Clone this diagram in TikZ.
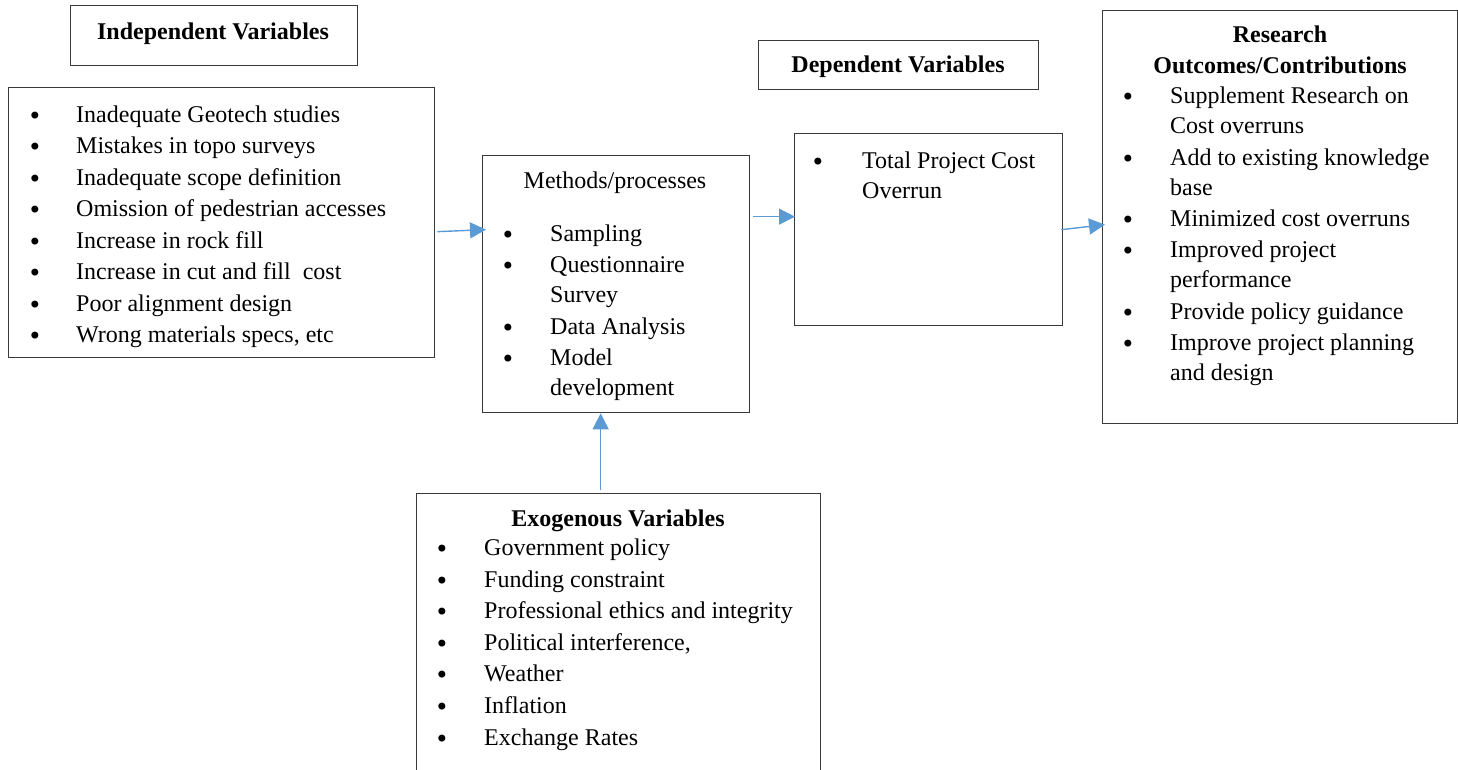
\documentclass[tikz,border=0pt]{standalone}
\usepackage{fontspec}
\setmainfont{Liberation Serif}
\newfontfamily\bulfont{DejaVu Sans}
\usetikzlibrary{arrows.meta}
\definecolor{arrowblue}{HTML}{5B9BD5}
\definecolor{boxline}{HTML}{3A3A3A}
\tikzset{
  box/.style={draw=boxline, line width=1.3pt, anchor=north west, inner sep=0pt},
  txt/.style={anchor=base west, inner sep=0pt, font=\fontsize{24}{28}\selectfont},
  bul/.style={anchor=base, inner sep=0pt, font=\bulfont\fontsize{24}{28}\selectfont, yshift=-2pt},
  ttl/.style={anchor=base, inner sep=0pt, font=\fontsize{24}{28}\selectfont\bfseries},
  ctr/.style={anchor=base, inner sep=0pt, font=\fontsize{24}{28}\selectfont},
  arr/.style={-{Triangle[length=16pt,width=16pt]}, draw=arrowblue, line width=1.4pt}
}
\begin{document}
\begin{tikzpicture}[x=1pt,y=-1pt]
\useasboundingbox (0,0) rectangle (1458,769);
% boxes
\node[box, minimum width=287pt, minimum height=60pt] (indtitle) at (70,5) {};
\node[box, minimum width=426pt, minimum height=270pt] (indep) at (8,87) {};
\node[box, minimum width=267pt, minimum height=257pt] (methods) at (482,155) {};
\node[box, minimum width=280pt, minimum height=49pt] (deptitle) at (758,40) {};
\node[box, minimum width=268pt, minimum height=192pt] (dep) at (794,133) {};
\node[box, minimum width=355pt, minimum height=413pt] (research) at (1102,10) {};
\node[box, minimum width=404pt, minimum height=300pt] (exo) at (416,493) {};
% titles
\node[ttl] (tind) at (213,39) {Independent Variables};
\node[ttl] (tdep) at (898,72) {Dependent Variables};
\node[ttl] (tres1) at (1280,42) {Research};
\node[ttl] (tres2) at (1280,73) {Outcomes/Contributions};
\node[ttl] (texo) at (618,526) {Exogenous Variables};
\node[ctr] (tmeth) at (615,188) {Methods/processes};
% independent list
\foreach \yy/\t [count=\i] in {122/{Inadequate Geotech studies},153.5/{Mistakes in topo surveys},185/{Inadequate scope definition},216.5/{Omission of pedestrian accesses},248/{Increase in rock fill},279.5/{Increase in cut and fill\ \ cost},311/{Poor alignment design},342.5/{Wrong materials specs, etc}}{
  \node[bul] (ib\i) at (35,\yy) {•};
  \node[txt] (it\i) at (76,\yy) {\t};
}
% methods list
\foreach \yy/\t [count=\i] in {241/Sampling,272/Questionnaire,302.5/Survey,334/{Data Analysis},365/Model,395/development}{
  \node[txt] (mt\i) at (550,\yy) {\t};
}
\node[bul] (mb1) at (508,241) {•};
\node[bul] (mb2) at (508,272) {•};
\node[bul] (mb3) at (508,334) {•};
\node[bul] (mb4) at (508,365) {•};
% dependent list
\node[bul] (db1) at (818,168) {•};
\node[txt] (dt1) at (862,168) {Total Project Cost};
\node[txt] (dt2) at (862,198) {Overrun};
% research list
\foreach \yy/\t [count=\i] in {103/{Supplement Research on},133.5/{Cost overruns},165/{Add to existing knowledge},195/{base},226/{Minimized cost overruns},257/{Improved project},287/{performance},319/{Provide policy guidance},350/{Improve project planning},380/{and design}}{
  \node[txt] (rt\i) at (1170,\yy) {\t};
}
\foreach \yy [count=\i] in {103,165,226,257,319,350}{
  \node[bul] (rb\i) at (1128,\yy) {•};
}
% exogenous list
\foreach \yy/\t [count=\i] in {555/{Government policy},587/{Funding constraint},618/{Professional ethics and integrity},650/{Political interference,},681/{Weather},713/{Inflation},745/{Exchange Rates}}{
  \node[bul] (eb\i) at (442,\yy) {•};
  \node[txt] (et\i) at (484,\yy) {\t};
}
% arrows
\draw[arr] ([xshift=2pt,yshift=-9pt]indep.east) -- ([xshift=4pt,yshift=54.5pt]methods.west);
\draw[arr] ([xshift=3pt,yshift=67.5pt]methods.east) -- ([xshift=1pt,yshift=13pt]dep.west);
\draw[arr] ([xshift=-2pt]dep.east) -- ([xshift=3pt,yshift=-7.5pt]research.west);
\draw[arr] ([xshift=-18pt,yshift=3pt]exo.north) -- ([xshift=-15.5pt]methods.south);
\end{tikzpicture}
\end{document}
